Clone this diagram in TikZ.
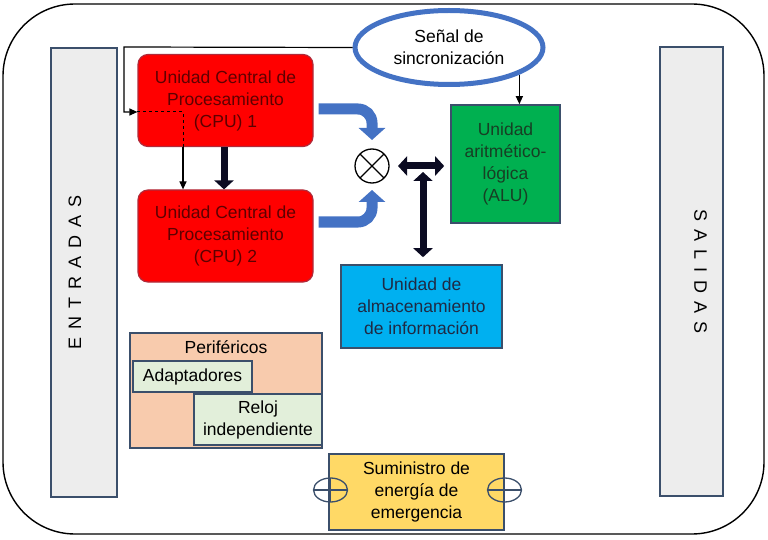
\documentclass[tikz,border=0pt]{standalone}
\usepackage{fontspec}
\setmainfont{Liberation Sans}
\usetikzlibrary{arrows.meta,shapes.geometric}

\definecolor{edgeBlue}{HTML}{3B4F6B}
\definecolor{sideGray}{HTML}{EDEDED}
\definecolor{cpuRed}{HTML}{FF0000}
\definecolor{cpuEdge}{HTML}{B02A3A}
\definecolor{cpuText}{HTML}{5E0000}
\definecolor{aluGreen}{HTML}{00B050}
\definecolor{aluText}{HTML}{173F24}
\definecolor{storeBlue}{HTML}{00B0F0}
\definecolor{storeText}{HTML}{1F2A44}
\definecolor{periPeach}{HTML}{F8CBAD}
\definecolor{subGreen}{HTML}{E2EFDA}
\definecolor{powerYellow}{HTML}{FFD966}
\definecolor{flowBlue}{HTML}{4472C4}
\definecolor{busNavy}{HTML}{0B0B22}

\begin{document}
\begin{tikzpicture}
[x=1pt,y=-1pt,
  font=\fontsize{17.5}{22}\selectfont,
  frameDecorate/.style={draw=black,line width=1.4pt,rounded corners=72pt},
  sideDecorate/.style={draw=edgeBlue,line width=1.6pt,fill=sideGray,
    minimum width=66pt,minimum height=449pt},
  sideTextDecorate/.style={font=\fontsize{18}{22}\selectfont\addfontfeature{LetterSpace=45}},
  cpuDecorate/.style={draw=cpuEdge,line width=1.2pt,fill=cpuRed,rounded corners=10pt,
    text=cpuText,align=center,minimum width=175pt,minimum height=92pt},
  boxDecorate/.style={draw=edgeBlue,line width=1.6pt,align=center,inner sep=0pt},
  syncDecorate/.style={ellipse,draw=flowBlue,line width=5pt,fill=white,align=center,
    minimum width=188pt,minimum height=74pt,inner sep=0pt},
  capDecorate/.style={ellipse,draw=edgeBlue,line width=1.3pt,outer sep=0pt,
    minimum width=34pt,minimum height=24pt,inner sep=0pt},
  thinLineDecorate/.style={draw=black,line width=1.2pt,-{Triangle[length=8pt,width=7pt]}},
  flowLineDecorate/.style={draw=flowBlue,line width=11pt,rounded corners=14pt,
    -{Triangle[length=12pt,width=26pt]}},
  busLineDecorate/.style={draw=busNavy,line width=7pt,-{Triangle[length=9pt,width=19pt]}}]
%% frame and sides
\draw[frameDecorate] (3,4) rectangle (764,534);
\useasboundingbox (0,0) rectangle (768,540);
\node[sideDecorate] (entradas) at (84,272.5) {};
\node[sideDecorate,minimum width=63pt] (salidas) at (691.5,271.5) {};
\node[sideTextDecorate,rotate=90] (entradasText) at ([xshift=-9pt]entradas.center) {ENTRADAS};
\node[sideTextDecorate,rotate=-90] (salidasText) at ([xshift=9pt]salidas.center) {SALIDAS};
%% processing units
\foreach \nodename/\y/\num in {cpu1/100.5/1, cpu2/236/2}
{
  \node[cpuDecorate] (\nodename) at (225.5,\y) {Unidad Central de\\Procesamiento\\(CPU) \num};
}
\node[syncDecorate] (sync) at (449,47.5) {Señal de\\sincronización};
\node[boxDecorate,fill=aluGreen,text=aluText,minimum width=109pt,minimum height=118pt]
  (alu) at (505.5,164) {Unidad\\aritmético-\\lógica\\(ALU)};
\node[circle,draw=black,line width=1.3pt,fill=white,minimum size=34pt,inner sep=0pt,outer sep=0pt]
  (xc) at (372,166) {};
\draw[line width=1.3pt] (xc.45) -- (xc.-135) (xc.135) -- (xc.-45);
\node[boxDecorate,fill=storeBlue,text=storeText,minimum width=161pt,minimum height=83pt]
  (stor) at (421.5,306.5) {Unidad de\\almacenamiento\\de información};
%% peripherals and power
\node[boxDecorate,fill=periPeach,minimum width=192pt,minimum height=115pt,
  label={[anchor=north,yshift=-5pt]north:Periféricos}] (peri) at (226,390.5) {};
\node[boxDecorate,fill=subGreen,minimum width=119pt,minimum height=31pt]
  (adapt) at (192.5,376.5) {Adaptadores};
\node[boxDecorate,fill=subGreen,minimum width=128pt,minimum height=51pt]
  (reloj) at (258,419.5) {Reloj\\independiente};
\node[boxDecorate,fill=powerYellow,minimum width=175pt,minimum height=76pt]
  (power) at (416.5,492) {Suministro de\\energía de\\emergencia};
\foreach \capname/\x in {capLeft/330.5, capRight/504.5}
{
  \node[capDecorate] (\capname) at (\x,490) {};
  \draw[edgeBlue,line width=1.3pt] (\capname.west) -- (\capname.east)
    (\capname.north) -- (\capname.south);
}
%% connectors
\coordinate (fbCorner) at (124,47);
\coordinate (tap) at (183,112);
\coordinate (busJoint) at (423,166);
\draw[thinLineDecorate] (sync.west) -- (fbCorner) |- (tap -| cpu1.west);
\draw[line width=1pt,dashed] (tap -| cpu1.west) -- (tap) -- (tap |- cpu1.south);
\draw[thinLineDecorate] (tap |- cpu1.south) -- (tap |- cpu2.north);
\draw[thinLineDecorate] (sync.-21) -- (sync.-21 |- alu.north);
\draw[busLineDecorate] ([xshift=-1.5pt]cpu1.south) -- ([xshift=-1.5pt]cpu2.north);
\draw[flowLineDecorate,shorten >=9pt] ([xshift=5pt,yshift=-8.5pt]cpu1.east) -| (xc.north);
\draw[flowLineDecorate,shorten >=7pt] ([xshift=5pt,yshift=14pt]cpu2.east) -| (xc.south);
\draw[busLineDecorate,{Triangle[length=9pt,width=19pt]}-{Triangle[length=9pt,width=19pt]},
  shorten <=9pt,shorten >=6pt] (xc.east) -- (xc.east -| alu.west);
\draw[busLineDecorate,{Triangle[length=9pt,width=19pt]}-{Triangle[length=9pt,width=19pt]},
  shorten <=6pt,shorten >=7pt] (busJoint) -- (busJoint |- stor.north);
\end{tikzpicture}
\end{document}
